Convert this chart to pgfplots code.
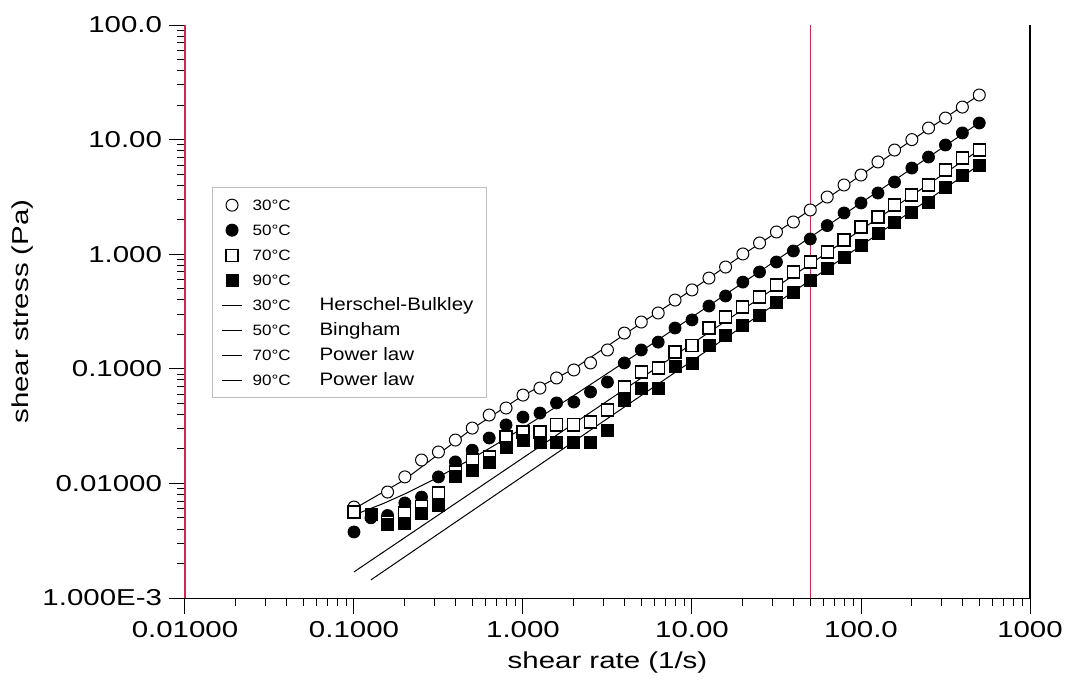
\documentclass[border=0pt]{standalone}
\usepackage{fontspec}
\setmainfont{Liberation Sans}
\newfontfamily\axfont[FakeStretch=1.28]{Liberation Sans}
\newfontfamily\legfont[FakeStretch=1.14]{Liberation Sans}
\usepackage{pgfplots}
\usepackage{pgfplotstable}
\pgfplotsset{compat=1.18}
\definecolor{axred}{RGB}{205,40,80}
\definecolor{legframe}{RGB}{190,190,190}

% measured series, shear rate (1/s) vs shear stress (Pa)
\pgfplotstableread{
x y
0.1 0.00622
0.158 0.00841
0.2 0.0114
0.251 0.0160
0.316 0.0188
0.398 0.0239
0.501 0.0304
0.631 0.0395
0.794 0.0455
1 0.0590
1.26 0.0679
1.58 0.0832
2.0 0.0977
2.51 0.1125
3.16 0.146
3.98 0.205
5.01 0.256
6.31 0.307
7.94 0.398
10 0.488
12.6 0.619
15.8 0.773
20 1.005
25.1 1.253
31.6 1.563
39.8 1.910
50.1 2.432
63.1 3.155
79.4 4.018
100 4.909
126 6.383
158 8.110
200 10.0
251 12.62
316 15.42
398 19.23
501 24.49
}\tthirty
\pgfplotstableread{
x y
0.1 0.00377
0.126 0.00501
0.158 0.00525
0.2 0.00675
0.251 0.0076
0.316 0.0114
0.398 0.0154
0.501 0.0195
0.631 0.0249
0.794 0.0324
1 0.0379
1.26 0.0411
1.58 0.0504
2.0 0.0513
2.51 0.0628
3.16 0.0767
3.98 0.1125
5.01 0.146
6.31 0.171
7.94 0.227
10 0.267
12.6 0.353
15.8 0.432
20 0.571
25.1 0.700
31.6 0.855
39.8 1.067
50.1 1.358
63.1 1.778
79.4 2.291
100 2.799
126 3.420
158 4.266
200 5.649
251 7.047
316 8.974
398 11.43
501 13.96
}\tfifty
\pgfplotstableread{
x y
0.1 0.00562
0.158 0.00460
0.2 0.00552
0.251 0.00631
0.316 0.00824
0.398 0.0126
0.501 0.0160
0.631 0.0170
0.794 0.0254
1 0.0281
1.26 0.0281
1.58 0.0324
2.0 0.0324
2.51 0.0344
3.16 0.0437
3.98 0.0693
5.01 0.0938
6.31 0.1016
7.94 0.140
10 0.161
12.6 0.227
15.8 0.283
20 0.346
25.1 0.424
31.6 0.538
39.8 0.700
50.1 0.855
63.1 1.045
79.4 1.330
100 1.726
126 2.113
158 2.685
200 3.289
251 4.018
316 5.433
398 6.902
501 8.110
}\tseventy
\pgfplotstableread{
x y
0.126 0.00537
0.158 0.00437
0.2 0.00452
0.251 0.00552
0.316 0.00649
0.398 0.0114
0.501 0.0131
0.631 0.0151
0.794 0.0208
1 0.0239
1.26 0.0230
1.58 0.0230
2.0 0.0230
2.51 0.0230
3.16 0.0292
3.98 0.0535
5.01 0.0679
6.31 0.0679
7.94 0.104
10 0.1125
12.6 0.161
15.8 0.197
20 0.241
25.1 0.294
31.6 0.383
39.8 0.468
50.1 0.596
63.1 0.759
79.4 0.946
100 1.202
126 1.531
158 1.910
200 2.333
251 2.851
316 3.855
398 4.909
501 5.998
}\tninety

\newcommand{\legsmall}{\legfont\fontsize{7.5}{8}\selectfont}
\newcommand{\legbig}{\legfont\fontsize{9}{10}\selectfont}
\newcommand{\axtext}{\axfont\fontsize{11.5}{13}\selectfont}

\begin{document}
\begin{tikzpicture}
\begin{axis}[
    scale only axis,
    width=422.5pt, height=286.5pt,
    xmode=log, ymode=log,
    xmin=0.01, xmax=1000, ymin=0.001, ymax=100,
    axis x line*=bottom, axis y line*=left,
    x axis line style={black, line width=0.5pt},
    y axis line style={draw=axred, line width=0.6pt},
    tick align=outside,
    major tick length=8pt, minor tick length=4pt,
    every tick/.style={black, line width=0.5pt},
    xtick={0.01,0.1,1,10,100,1000},
    xticklabels={0.01000,0.1000,1.000,10.00,100.0,1000},
    minor xtick={0.02,0.03,0.04,0.05,0.06,0.07,0.08,0.09,
                 0.2,0.3,0.4,0.5,0.6,0.7,0.8,0.9,
                 2,3,4,5,6,7,8,9,20,30,40,50,60,70,80,90,
                 200,300,400,500,600,700,800,900},
    ytick={0.001,0.01,0.1,1,10,100},
    yticklabels={1.000E-3,0.01000,0.1000,1.000,10.00,100.0},
    minor ytick={0.002,0.003,0.004,0.005,0.006,0.007,0.008,0.009,
                 0.02,0.03,0.04,0.05,0.06,0.07,0.08,0.09,
                 0.2,0.3,0.4,0.5,0.6,0.7,0.8,0.9,
                 2,3,4,5,6,7,8,9,20,30,40,50,60,70,80,90},
    ticklabel style={font=\axtext},
    yticklabel style={xshift=0pt},
    xlabel={shear rate (1/s)},
    ylabel={shear stress (Pa)},
    every axis x label/.style={at={(axis description cs:0.5,0)}, yshift=-32.5pt, anchor=center,
        font=\axtext},
    every axis y label/.style={at={(axis description cs:0,0.5)}, xshift=-81pt, rotate=90, anchor=center,
        font=\axtext},
    clip=false,
    legend cell align=left,
    legend style={at={(0.032,0.717)}, anchor=north west, draw=legframe, line width=0.5pt,
        font=\legsmall, row sep=3pt, column sep=3pt, inner xsep=4.5pt, inner ysep=4pt,
        nodes={inner ysep=0pt, text height=7.5pt, text depth=2pt}},
    mark size=3pt,
]
\addplot[axred, line width=0.6pt, forget plot] coordinates {(50,0.001) (50,100)};

\addplot[only marks, mark=*, mark options={fill=white, draw=black, line width=0.5pt}] table {\tthirty};
\addlegendentry{30°C}
\addplot[only marks, mark=*, mark options={fill=black, draw=black}] table {\tfifty};
\addlegendentry{50°C}
\addplot[only marks, mark=square*, mark options={fill=white, draw=black, line width=0.6pt}] table {\tseventy};
\addlegendentry{70°C}
\addplot[only marks, mark=square*, mark options={fill=black, draw=black}] table {\tninety};
\addlegendentry{90°C}

% model fits
\pgfplotsset{fitline/.style={black, line width=0.5pt,
    legend image code/.code={\draw[black, line width=0.5pt] (0.3cm-5pt,0cm) -- (0.3cm+5pt,0cm);}}}
\addplot[fitline] coordinates {
(0.1,0.0060) (0.2,0.0108) (0.5,0.0300) (1,0.0585) (2,0.100) (5,0.250)
(10,0.490) (20,0.99) (50,2.43) (100,4.90) (200,9.90) (500,24.5)};
\addlegendentry{\makebox[33.5pt][l]{30°C}{\legbig Herschel-Bulkley}}
\addplot[fitline] coordinates {
(0.1,0.0053) (0.15,0.0067) (0.2,0.0081) (0.3,0.0109) (0.5,0.0165) (0.7,0.0221)
(1,0.0305) (2,0.0585) (5,0.1425) (10,0.2825) (30,0.8425) (100,2.8025) (500,14.0)};
\addlegendentry{\makebox[33.5pt][l]{50°C}{\legbig Bingham}}
\addplot[fitline] coordinates {(0.1,0.00169) (500,8.1)};
\addlegendentry{\makebox[33.5pt][l]{70°C}{\legbig Power law}}
\addplot[fitline] coordinates {(0.126,0.00144) (500,6.0)};
\addlegendentry{\makebox[33.5pt][l]{90°C}{\legbig Power law}}

\draw[black, line width=0.6pt] (rel axis cs:1,0) -- (rel axis cs:1,1);
\end{axis}
\pgfresetboundingbox
\path ([shift={(-92.5pt,-41.5pt)}]current axis.south west) rectangle ([shift={(18pt,12.5pt)}]current axis.north east);
\end{tikzpicture}
\end{document}
